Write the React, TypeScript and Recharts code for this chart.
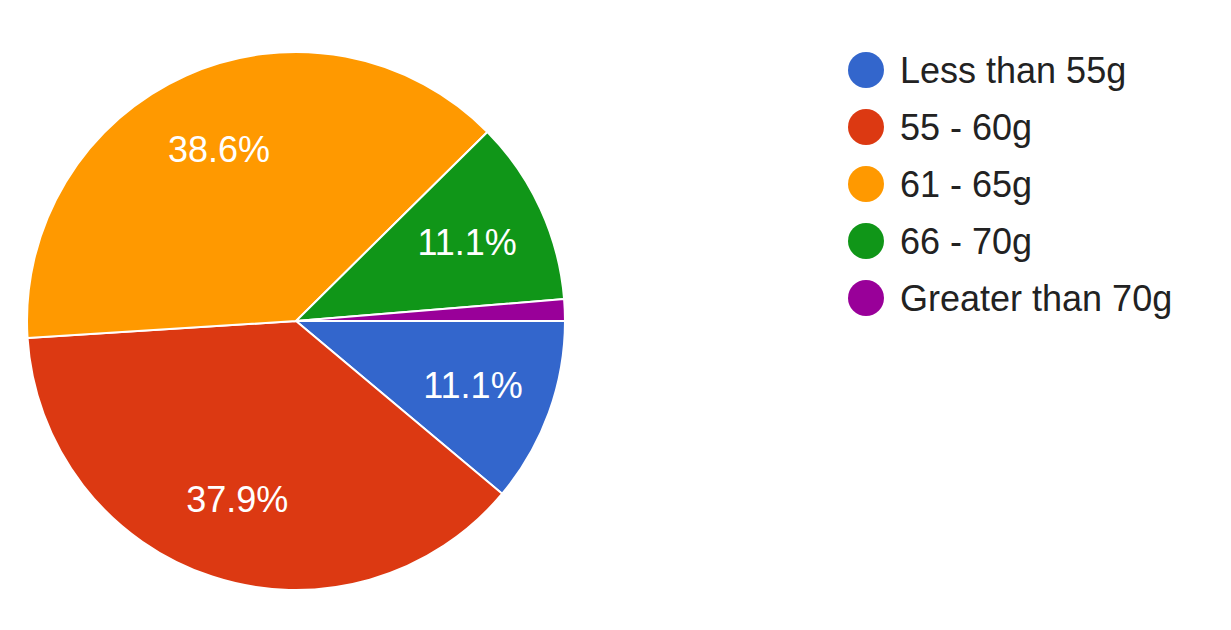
import React from "react";
import { PieChart, Pie, Cell, Legend } from "recharts";

const categories = ["Less than 55g", "55 - 60g", "61 - 65g", "66 - 70g", "Greater than 70g"];
const percentages = [11.1, 37.9, 38.6, 11.1, 1.3];
const colors = ["#3366cc", "#dc3912", "#ff9900", "#109618", "#990099"];

const data = categories.map((name, i) => ({ name, value: percentages[i] }));

const FONT = "Arial, 'Liberation Sans', sans-serif";
const RAD = Math.PI / 180;

const renderLabel = (props: any) => {
  const { cx, cy, midAngle, outerRadius, percent } = props;
  if (percent < 0.05) return null;
  const r = outerRadius * 0.7;
  const x = cx + r * Math.cos(-midAngle * RAD);
  const y = cy + r * Math.sin(-midAngle * RAD);
  return (
    <text
      x={x}
      y={y}
      fill="#ffffff"
      textAnchor="middle"
      dominantBaseline="central"
      fontSize={36}
      fontFamily={FONT}
    >
      {(percent * 100).toFixed(1) + "%"}
    </text>
  );
};

const renderLegend = (props: any) => {
  const payload = [...(props.payload || [])].sort(
    (a: any, b: any) => categories.indexOf(a.value) - categories.indexOf(b.value)
  );
  return (
    <div style={{ fontFamily: FONT }}>
      {payload.map((entry: any, i: number) => (
        <div
          key={i}
          style={{ display: "flex", alignItems: "center", height: 57 }}
        >
          <div
            style={{
              width: 36,
              height: 36,
              borderRadius: "50%",
              background: entry.color,
              marginRight: 16,
              flex: "0 0 auto",
            }}
          />
          <span
            style={{
              fontSize: 36,
              lineHeight: "57px",
              color: "#222222",
              whiteSpace: "nowrap",
            }}
          >
            {entry.value}
          </span>
        </div>
      ))}
    </div>
  );
};

export default function App() {
  return (
    <div style={{ position: "absolute", left: 0, top: 0, width: 1231, height: 630, background: "#ffffff" }}>
      <PieChart width={1231} height={630} margin={{ top: 0, right: 0, bottom: 0, left: 0 }}>
        <Pie
          data={data}
          dataKey="value"
          nameKey="name"
          cx={296}
          cy={321}
          outerRadius={269}
          startAngle={0}
          endAngle={-360}
          stroke="#ffffff"
          strokeWidth={2}
          label={renderLabel}
          labelLine={false}
          isAnimationActive={false}
        >
          {data.map((d, i) => (
            <Cell key={d.name} fill={colors[i]} />
          ))}
        </Pie>
        <Legend
          layout="vertical"
          align="right"
          verticalAlign="top"
          content={renderLegend}
          wrapperStyle={{ left: 848, top: 41.5, right: "auto", width: 370 }}
        />
      </PieChart>
    </div>
  );
}
